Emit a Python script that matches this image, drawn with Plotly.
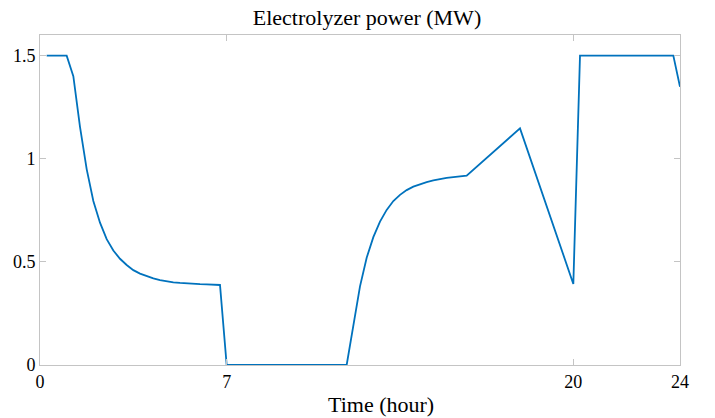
import plotly.graph_objects as go

time_h = [0.25, 0.5, 0.75, 1.0, 1.25, 1.5, 1.75, 2.0, 2.25, 2.5, 2.75, 3.0, 3.25, 3.5,
          3.75, 4.0, 4.25, 4.5, 4.75, 5.0, 5.25, 5.5, 5.75, 6.0, 6.25, 6.5, 6.75,
          7.0, 11.5, 12.0, 12.25, 12.5, 12.75, 13.0, 13.25, 13.5, 13.75, 14.0, 14.25,
          14.5, 14.75, 15.0, 15.25, 15.5, 15.75, 16.0, 18.0, 20.0, 20.25, 23.75, 24.0]
power_mw = [1.5, 1.5, 1.5, 1.5, 1.40, 1.155, 0.95, 0.795, 0.69, 0.61, 0.555, 0.515, 0.485, 0.46,
            0.443, 0.43, 0.42, 0.412, 0.406, 0.401, 0.398, 0.395, 0.393, 0.392, 0.391, 0.390, 0.388,
            0.0, 0.0, 0.381, 0.52, 0.62, 0.695, 0.752, 0.795, 0.825, 0.848, 0.865, 0.877,
            0.887, 0.895, 0.902, 0.907, 0.911, 0.915, 0.918, 1.147, 0.393, 1.5, 1.5, 1.349]

x_ticks = [0, 7, 20, 24]
y_ticks = [0, 0.5, 1, 1.5]
y_tick_labels = ["0", "0.5", "1", "1.5"]

FONT = "'Liberation Serif', 'Times New Roman', 'DejaVu Serif', serif"
AX = "#c4c4c4"

fig = go.Figure(go.Scatter(x=time_h, y=power_mw, mode="lines",
                           line=dict(color="#0072BD", width=1.8), showlegend=False,
                           hoverinfo="skip"))

fig.update_layout(
    width=715, height=418,
    margin=dict(l=40, r=35, t=35, b=53),
    paper_bgcolor="white", plot_bgcolor="white",
    font=dict(family=FONT, size=18, color="black"),
    title=dict(text="Electrolyzer power (MW)", x=(367 - 40) / 640, xref="paper",
               xanchor="center", y=1 - 17 / 418, yref="container", yanchor="middle",
               font=dict(family=FONT, size=22, color="black")),
    annotations=[dict(text="Time (hour)", xref="paper", x=(381 - 40) / 640,
                      yref="paper", y=-(404 - 365) / 330, yanchor="middle",
                      xanchor="center", showarrow=False,
                      font=dict(family=FONT, size=22, color="black"))],
)

fig.update_xaxes(range=[0, 24], tickvals=x_ticks, ticktext=[str(v) for v in x_ticks],
                 ticks="inside", ticklen=6, tickcolor=AX, tickwidth=1,
                 showline=True, linecolor=AX, linewidth=1, mirror="ticks",
                 showgrid=False, zeroline=False, tickfont=dict(family=FONT, size=18))
fig.update_yaxes(range=[0, 1.6], tickvals=y_ticks, ticktext=y_tick_labels,
                 ticks="inside", ticklen=6, tickcolor=AX, tickwidth=1,
                 showline=True, linecolor=AX, linewidth=1, mirror="ticks",
                 showgrid=False, zeroline=False, tickfont=dict(family=FONT, size=18))

fig.write_html("out.html", config={"displayModeBar": False},
               post_script="document.body.style.margin='0px';document.body.style.overflow='hidden';")
